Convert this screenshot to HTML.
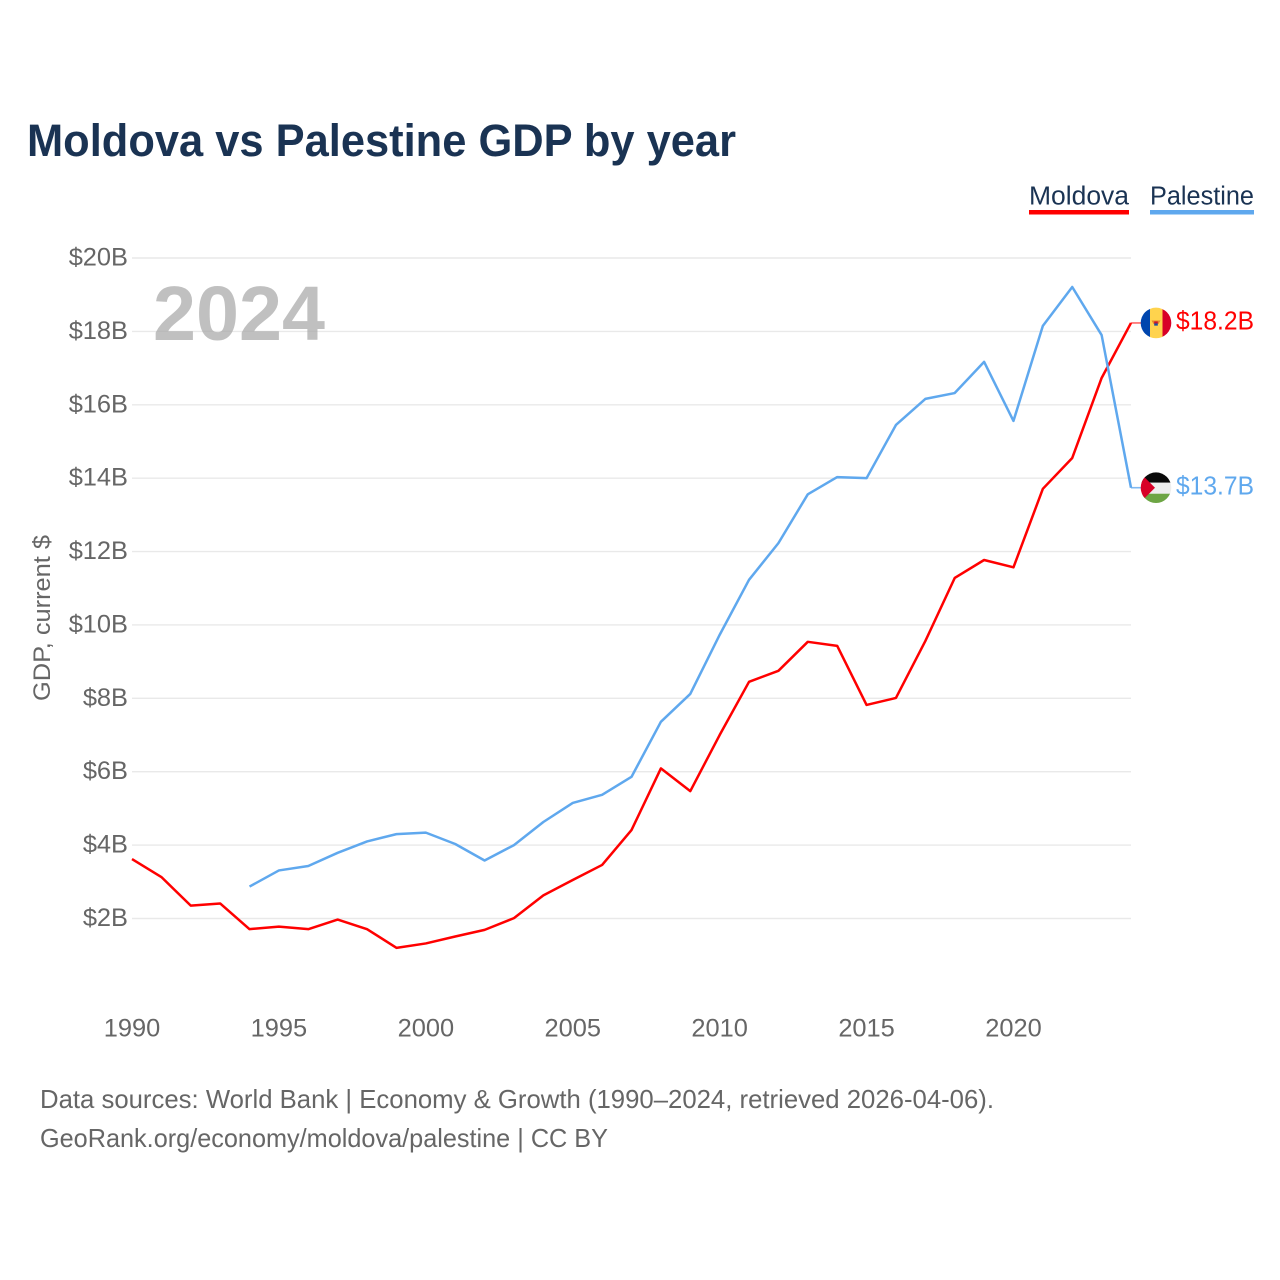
<!DOCTYPE html>
<html lang="en">
<head>
<meta charset="utf-8">
<title>Moldova vs Palestine GDP by year</title>
<style>
html,body{margin:0;padding:0;background:#fff;width:1280px;height:1280px;overflow:hidden}
svg{display:block;font-family:"Liberation Sans",sans-serif}
</style>
</head>
<body>
<svg id="chart" xmlns="http://www.w3.org/2000/svg" width="1280" height="1280" viewBox="0 0 1280 1280">
  <defs>
    <clipPath id="flag-clip-md"><circle cx="0" cy="0" r="15.3"/></clipPath>
    <clipPath id="flag-clip-ps"><circle cx="0" cy="0" r="15.3"/></clipPath>
  </defs>
  <rect x="0" y="0" width="1280" height="1280" fill="#ffffff"/>
  <text x="27" y="156" font-size="45" font-weight="700" fill="#1a3353" textLength="709" lengthAdjust="spacingAndGlyphs">Moldova vs Palestine GDP by year</text>

  <g id="grid"></g>
  <g id="y-ticks"></g>
  <g id="x-ticks"></g>

  <text x="153" y="340" font-size="77" font-weight="700" fill="#a8a8a8" fill-opacity="0.72" textLength="172" lengthAdjust="spacingAndGlyphs">2024</text>

  <text transform="translate(50,701) rotate(-90)" font-size="24" fill="#666666" textLength="166" lengthAdjust="spacingAndGlyphs">GDP, current $</text>

  <g id="series"></g>

  <g>
    <g>
      <text x="1029" y="204.5" font-size="25.5" fill="#1a3353" textLength="100" lengthAdjust="spacingAndGlyphs">Moldova</text>
      <rect x="1029" y="210" width="100" height="4.5" fill="#ff0000"/>
    </g>
    <g>
      <text x="1150" y="204.5" font-size="25.5" fill="#1a3353" textLength="104" lengthAdjust="spacingAndGlyphs">Palestine</text>
      <rect x="1150" y="210" width="104" height="4.5" fill="#5fa8ee"/>
    </g>
  </g>

  <g id="flag-md">
    <g clip-path="url(#flag-clip-md)">
      <rect x="-16" y="-16" width="10" height="32" fill="#0046ae"/>
      <rect x="-6" y="-16" width="12.5" height="32" fill="#ffd34d"/>
      <rect x="6.5" y="-16" width="10" height="32" fill="#d80027"/>
      <path d="M-4.5 -2.5 L4.5 -2.5 L2.5 1 L-2.5 1 Z" fill="#e8862a"/>
      <rect x="-1.8" y="-1.5" width="3.6" height="2" fill="#c8102e"/>
      <rect x="-1.8" y="0.5" width="3.6" height="2.2" fill="#1c4fa1"/>
    </g>
  </g>
  <g id="flag-ps">
    <g clip-path="url(#flag-clip-ps)">
      <rect x="-16" y="-16" width="32" height="11" fill="#0a0a0a"/>
      <rect x="-16" y="-5" width="32" height="11" fill="#eeeeee"/>
      <rect x="-16" y="6" width="32" height="10" fill="#6da544"/>
      <path d="M-16 -15 L-1 0 L-16 15 Z" fill="#d80027"/>
    </g>
  </g>
  <g id="end-labels"></g>

  <text x="40" y="1108" font-size="26" fill="#666666" textLength="954" lengthAdjust="spacingAndGlyphs">Data sources: World Bank | Economy &amp; Growth (1990–2024, retrieved 2026-04-06).</text>
  <text x="40" y="1147" font-size="26" fill="#666666" textLength="568" lengthAdjust="spacingAndGlyphs">GeoRank.org/economy/moldova/palestine | CC BY</text>
</svg>
<script>
const years = [1990,1991,1992,1993,1994,1995,1996,1997,1998,1999,2000,2001,2002,2003,2004,2005,2006,2007,2008,2009,2010,2011,2012,2013,2014,2015,2016,2017,2018,2019,2020,2021,2022,2023,2024];
const moldovaValues = [3.62,3.13,2.35,2.41,1.71,1.78,1.71,1.97,1.71,1.20,1.32,1.51,1.69,2.01,2.63,3.05,3.46,4.41,6.09,5.47,7.00,8.45,8.75,9.54,9.43,7.82,8.01,9.56,11.28,11.77,11.57,13.71,14.55,16.73,18.23];
const palestineValues = [null,null,null,null,2.87,3.31,3.43,3.79,4.10,4.30,4.34,4.03,3.58,4.00,4.63,5.15,5.37,5.86,7.36,8.12,9.73,11.23,12.23,13.56,14.03,14.00,15.45,16.16,16.32,17.17,15.56,18.15,19.21,17.90,13.74];
const yTickValues = [2,4,6,8,10,12,14,16,18,20];
const xTickYears = [1990,1995,2000,2005,2010,2015,2020];

const SVG_NS = 'http://www.w3.org/2000/svg';
function xScale(year){ return 132 + (year - 1990) * (1131 - 132) / (2024 - 1990); }
function yScale(value){ return 918.5 - (value - 2) * (918.5 - 258) / (20 - 2); }
function money(value){ return '$' + value + 'B'; }
function make(tag, attrs, parent){
  const el = document.createElementNS(SVG_NS, tag);
  for (const k in attrs) el.setAttribute(k, attrs[k]);
  parent.appendChild(el);
  return el;
}

const grid = document.getElementById('grid');
const yTicks = document.getElementById('y-ticks');
yTickValues.forEach(function(v){
  const line = make('line', {x1:132, x2:1131, y1:yScale(v), y2:yScale(v), stroke:'#e9e9e9', 'stroke-width':1.4}, grid);
  
  
  const label = make('text', {x:128, y:yScale(v)+7.5, 'text-anchor':'end', 'font-size':25.4, fill:'#666666'}, yTicks);
  
  
  label.textContent = money(v);
});

const xTicks = document.getElementById('x-ticks');
xTickYears.forEach(function(y){
  const label = make('text', {x:xScale(y), y:1036.5, 'text-anchor':'middle', 'font-size':25.4, fill:'#666666'}, xTicks);
  
  
  label.textContent = y;
});

function pathFor(values){
  let d = '';
  values.forEach(function(v, i){
    if (v === null) return;
    d += (d ? 'L' : 'M') + xScale(years[i]).toFixed(2) + ' ' + yScale(v).toFixed(2);
  });
  return d;
}
const series = document.getElementById('series');
const labels = document.getElementById('end-labels');

const moldovaLine = make('path', {d:pathFor(moldovaValues), fill:'none', stroke:'#ff0000', 'stroke-width':2.5, 'stroke-linejoin':'round'}, series);



const palestineLine = make('path', {d:pathFor(palestineValues), fill:'none', stroke:'#5fa8ee', 'stroke-width':2.5, 'stroke-linejoin':'round'}, series);



const lastMd = moldovaValues[moldovaValues.length - 1];
const lastPs = palestineValues[palestineValues.length - 1];

const mdLeader = make('line', {x1:1131, x2:1141, y1:yScale(lastMd), y2:yScale(lastMd), stroke:'#ff0000', 'stroke-width':1.6, 'stroke-opacity':0.6}, series);



const psLeader = make('line', {x1:1131, x2:1141, y1:yScale(lastPs), y2:yScale(lastPs), stroke:'#5fa8ee', 'stroke-width':1.6, 'stroke-opacity':0.8}, series);



document.getElementById('flag-md').setAttribute('transform', 'translate(1156,' + yScale(lastMd) + ')');
document.getElementById('flag-ps').setAttribute('transform', 'translate(1156,' + yScale(lastPs) + ')');

const mdLabel = make('text', {x:1176, y:yScale(lastMd)+6.5, 'font-size':25.5, fill:'#ff0000', textLength:78, lengthAdjust:'spacingAndGlyphs'}, labels);


mdLabel.textContent = money(lastMd.toFixed(1));

const psLabel = make('text', {x:1176, y:yScale(lastPs)+7, 'font-size':25.5, fill:'#5fa8ee', textLength:78, lengthAdjust:'spacingAndGlyphs'}, labels);


psLabel.textContent = money(lastPs.toFixed(1));
</script>
</body>
</html>
